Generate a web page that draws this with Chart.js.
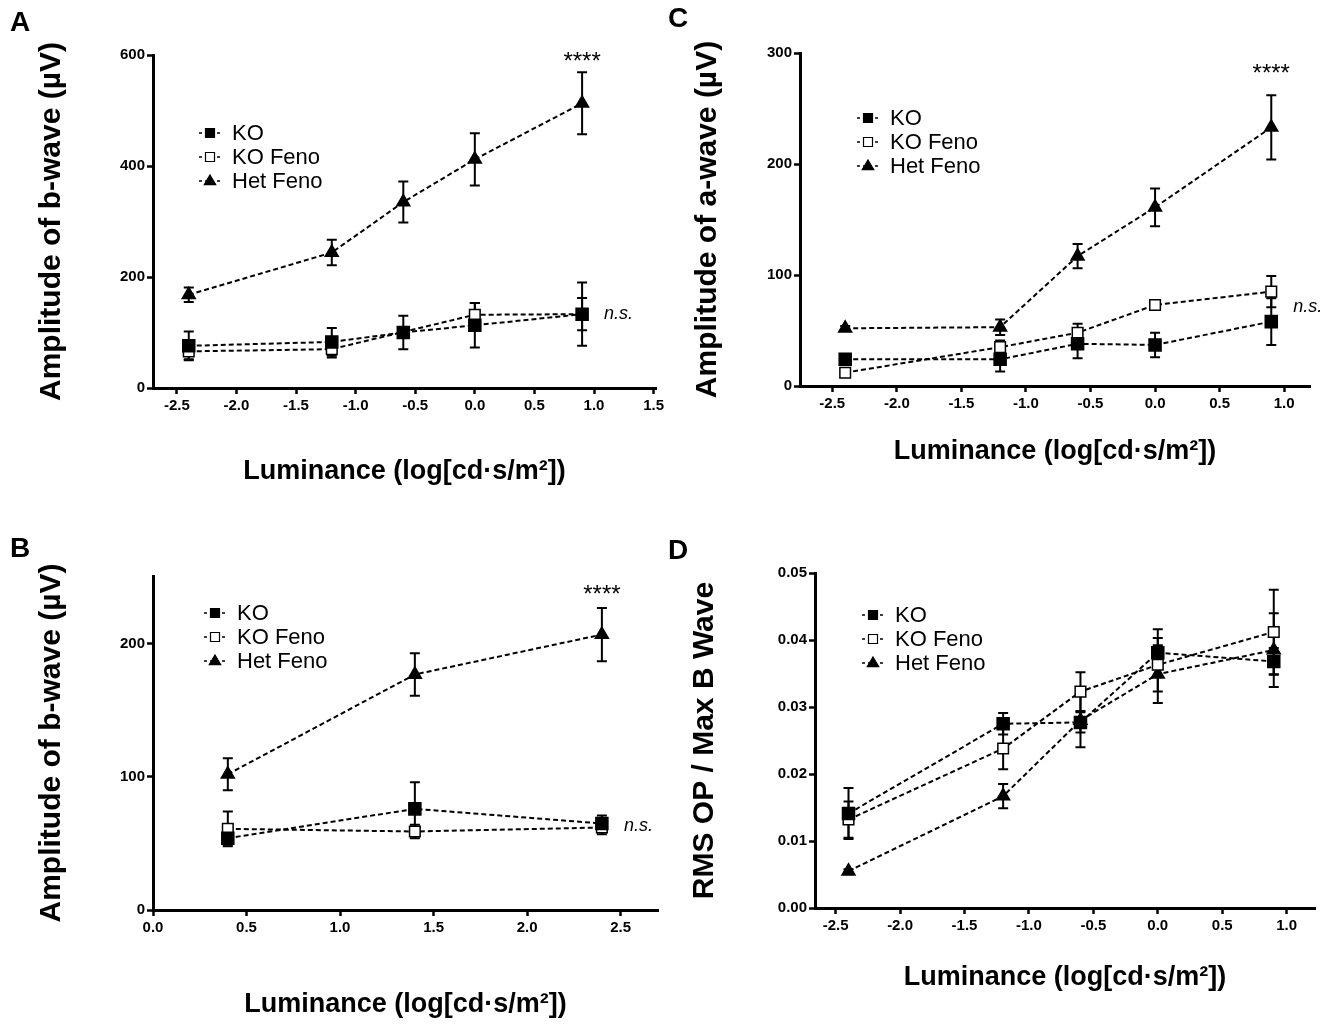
<!DOCTYPE html>
<html>
<head>
<meta charset="utf-8">
<script src="https://cdn.jsdelivr.net/npm/chart.js@4.4.1/dist/chart.umd.min.js"></script>
<style>
  body { margin: 0; background: #fff; }
  #wrap { position: relative; width: 1325px; height: 1027px; overflow: hidden; background: #fff; }
  canvas { position: absolute; }
  .tag { position: absolute; font: bold 28px "Liberation Sans", Arial, sans-serif; line-height: 1; color: #000; }
</style>
</head>
<body>
<div id="wrap">
  <canvas id="chartA" width="700" height="505" style="left:0px;top:0px"></canvas>
  <canvas id="chartC" width="665" height="490" style="left:660px;top:0px"></canvas>
  <canvas id="chartB" width="700" height="517" style="left:0px;top:510px"></canvas>
  <canvas id="chartD" width="665" height="517" style="left:660px;top:510px"></canvas>
  <div class="tag" style="left:10px;top:8px">A</div>
  <div class="tag" style="left:668px;top:4px">C</div>
  <div class="tag" style="left:10px;top:534px">B</div>
  <div class="tag" style="left:668px;top:536px">D</div>
</div>
<script>
const FONT = '"Liberation Sans", Arial, Helvetica, sans-serif';

// flash luminance steps, log[cd·s/m²]
const lumSteps = [-2.4, -1.2, -0.6, 0.0, 0.9];
const lumStepsB = [0.4, 1.4, 2.4];

// A - b-wave amplitude (µV), mean and SEM
const koA = [76, 83, 100, 113, 133];
const koErrA = [26, 25, 30, 40, 57];
const koFenoA = [66, 70, 101, 132, 133];
const koFenoErrA = [14, 15, 6, 21, 29];
const hetA = [168, 244, 335, 412, 513];
const hetErrA = [13, 23, 37, 47, 56];
const starsA = 595;

// C - a-wave amplitude (µV)
const koC = [24, 24, 38, 37, 58];
const koErrC = [3, 11, 13, 11, 21];
const koFenoC = [12, 35, 48, 73, 85];
const koFenoErrC = [3, 6, 8, 3, 14];
const hetC = [52, 53, 117, 161, 233];
const hetErrC = [2, 7, 11, 17, 29];
const starsC = 285;

// B - b-wave amplitude (µV)
const koB = [54, 76, 65];
const koErrB = [5, 20, 6];
const koFenoB = [61, 59, 62];
const koFenoErrB = [13, 5, 5];
const hetB = [102, 177, 207];
const hetErrB = [12, 16, 20];
const starsB = 240;

// D - RMS OP / max b-wave
const koD = [0.0141, 0.0275, 0.0277, 0.0381, 0.0368];
const koErrD = [0.0038, 0.0016, 0.0015, 0.0035, 0.0020];
const koFenoD = [0.0132, 0.0238, 0.0323, 0.0363, 0.0412];
const koFenoErrD = [0.0027, 0.0031, 0.0029, 0.0040, 0.0063];
const hetD = [0.0055, 0.0167, 0.0280, 0.0349, 0.0385];
const hetErrD = [0.0003, 0.0018, 0.0040, 0.0043, 0.0055];

const xTitle = 'Luminance (log[cd·s/m²])';

const errorBars = {
  id: 'errorBars',
  beforeDatasetsDraw(chart) {
    const { ctx, scales: { x, y } } = chart;
    ctx.save();
    ctx.strokeStyle = '#000';
    ctx.lineWidth = 2;
    chart.data.datasets.forEach((ds) => {
      ds.data.forEach((p, i) => {
        const e = ds.errors[i];
        const px = x.getPixelForValue(p.x);
        const top = y.getPixelForValue(p.y + e);
        const bot = y.getPixelForValue(p.y - e);
        ctx.beginPath();
        ctx.moveTo(px, top); ctx.lineTo(px, bot);
        ctx.moveTo(px - 5, top); ctx.lineTo(px + 5, top);
        ctx.moveTo(px - 5, bot); ctx.lineTo(px + 5, bot);
        ctx.stroke();
      });
    });
    ctx.restore();
  },
};

function marker(ctx, style, fill, cx, cy, r) {
  ctx.fillStyle = fill;
  ctx.strokeStyle = '#000';
  ctx.lineWidth = 1.2;
  ctx.beginPath();
  if (style === 'triangle') {
    ctx.moveTo(cx, cy - r);
    ctx.lineTo(cx + r * 0.95, cy + r * 0.6);
    ctx.lineTo(cx - r * 0.95, cy + r * 0.6);
    ctx.closePath();
  } else {
    ctx.rect(cx - r, cy - r, 2 * r, 2 * r);
  }
  ctx.fill();
  ctx.stroke();
}

const insetLegend = {
  id: 'insetLegend',
  afterDraw(chart, args, opts) {
    const { ctx, chartArea } = chart;
    const x0 = chartArea.left + opts.dx;
    const y0 = chartArea.top + opts.dy;
    ctx.save();
    chart.data.datasets.forEach((ds, i) => {
      const cy = y0 + i * 24;
      ctx.strokeStyle = '#000';
      ctx.lineWidth = 1.5;
      ctx.setLineDash([3, 3]);
      ctx.beginPath();
      ctx.moveTo(x0 - 11, cy);
      ctx.lineTo(x0 + 12, cy);
      ctx.stroke();
      ctx.setLineDash([]);
      marker(ctx, ds.pointStyle, ds.pointBackgroundColor, x0, cy, ds.pointStyle === 'triangle' ? 6 : 4.5);
      ctx.fillStyle = '#000';
      ctx.font = '22px ' + FONT;
      ctx.textBaseline = 'middle';
      ctx.fillText(ds.label, x0 + 22, cy + 1);
    });
    ctx.restore();
  },
};

const sigMarks = {
  id: 'sigMarks',
  afterDraw(chart, args, opts) {
    const { ctx, scales: { x, y } } = chart;
    const ds = chart.data.datasets;
    const last = ds[0].data.length - 1;
    const lx = x.getPixelForValue(ds[0].data[last].x);
    ctx.save();
    ctx.fillStyle = '#000';
    ctx.textBaseline = 'middle';
    if (opts.stars !== undefined) {
      ctx.textAlign = 'center';
      ctx.font = '24px ' + FONT;
      ctx.fillText('****', lx, y.getPixelForValue(opts.stars) + 5);
    }
    if (opts.ns) {
      const nsVal = (ds[0].data[last].y + ds[1].data[last].y) / 2;
      ctx.textAlign = 'left';
      ctx.font = 'italic 18px ' + FONT;
      ctx.fillText('n.s.', lx + 22, y.getPixelForValue(nsVal));
    }
    ctx.restore();
  },
};

function series(label, xs, ys, errs, style, fill, radius) {
  return {
    label: label,
    errors: errs,
    data: xs.map((x, i) => ({ x: x, y: ys[i] })),
    showLine: true,
    tension: 0,
    borderColor: '#000',
    borderWidth: 2,
    borderDash: [5, 3],
    pointStyle: style,
    pointRadius: radius,
    pointHoverRadius: radius,
    pointBackgroundColor: fill,
    pointBorderColor: '#000',
    pointBorderWidth: 1.5,
  };
}

function panel(id, p) {
  const tickFont = { family: FONT, size: 15, weight: 'bold' };
  return new Chart(document.getElementById(id), {
    type: 'scatter',
    data: {
      datasets: [
        series('KO', p.xs, p.ko, p.koErr, 'rect', '#000', 8.5),
        series('KO Feno', p.xs, p.koFeno, p.koFenoErr, 'rect', '#fff', 7.5),
        series('Het Feno', p.xs, p.het, p.hetErr, 'triangle', '#000', 7.5),
      ],
    },
    options: {
      responsive: false,
      animation: false,
      devicePixelRatio: 1,
      layout: { padding: { left: 0, top: p.padTop, right: p.padRight, bottom: 0 } },
      scales: {
        x: {
          type: 'linear',
          min: p.xMin,
          max: p.xMax,
          afterFit: (s) => { s.height = p.xH; },
          ticks: {
            stepSize: 0.5,
            includeBounds: false,
            autoSkip: false,
            maxRotation: 0,
            color: '#000',
            font: tickFont,
            padding: 3,
            callback: (v) => v.toFixed(1),
          },
          grid: { drawOnChartArea: false, drawTicks: true, tickLength: 6, tickWidth: 2.5, tickColor: '#000' },
          border: { color: '#000', width: 3 },
          title: {
            display: true,
            text: xTitle,
            color: '#000',
            font: { family: FONT, size: 27, weight: 'bold' },
            padding: { top: 0, bottom: p.xTitlePad },
          },
        },
        y: {
          type: 'linear',
          min: 0,
          max: p.yMax,
          afterFit: (s) => { s.width = p.yW; },
          ticks: {
            stepSize: p.yStep,
            includeBounds: false,
            color: '#000',
            font: tickFont,
            padding: 2,
            callback: (v) => (p.yDec ? v.toFixed(p.yDec) : v),
          },
          grid: { drawOnChartArea: false, drawTicks: true, tickLength: 6, tickWidth: 2.5, tickColor: '#000' },
          border: { color: '#000', width: 3 },
          title: {
            display: true,
            text: p.yTitle,
            color: '#000',
            font: { family: FONT, size: 30, weight: 'bold' },
            padding: { top: p.yTitlePad, bottom: 0 },
          },
        },
      },
      plugins: {
        legend: { display: false },
        tooltip: { enabled: false },
        insetLegend: { dx: p.legDx, dy: p.legDy },
        sigMarks: { stars: p.stars, ns: p.ns },
      },
    },
    plugins: [errorBars, insetLegend, sigMarks],
  });
}

panel('chartA', {
  xs: lumSteps, ko: koA, koErr: koErrA, koFeno: koFenoA, koFenoErr: koFenoErrA, het: hetA, hetErr: hetErrA,
  stars: starsA, ns: true, xMin: -2.7, xMax: 1.52, yMax: 600, yStep: 200, yDec: 0,
  yTitle: 'Amplitude of b-wave (µV)',
  padTop: 55, padRight: 44, yW: 153, xH: 117, yTitlePad: 34, xTitlePad: 17, legDx: 57, legDy: 78,
});

panel('chartC', {
  xs: lumSteps, ko: koC, koErr: koErrC, koFeno: koFenoC, koFenoErr: koFenoErrC, het: hetC, hetErr: hetErrC,
  stars: starsC, ns: true, xMin: -2.75, xMax: 1.2, yMax: 300, yStep: 100, yDec: 0,
  yTitle: 'Amplitude of a-wave (µV)',
  padTop: 53, padRight: 15, yW: 140, xH: 104, yTitlePad: 30, xTitlePad: 22, legDx: 68, legDy: 65,
});

panel('chartB', {
  xs: lumStepsB, ko: koB, koErr: koErrB, koFeno: koFenoB, koFenoErr: koFenoErrB, het: hetB, hetErr: hetErrB,
  stars: starsB, ns: true, xMin: 0, xMax: 2.7, yMax: 251, yStep: 100, yDec: 0,
  yTitle: 'Amplitude of b-wave (µV)',
  padTop: 66, padRight: 42, yW: 153, xH: 117, yTitlePad: 34, xTitlePad: 6, legDx: 62, legDy: 37,
});

panel('chartD', {
  xs: lumSteps, ko: koD, koErr: koErrD, koFeno: koFenoD, koFenoErr: koFenoErrD, het: hetD, hetErr: hetErrD,
  stars: undefined, ns: false, xMin: -2.66, xMax: 1.22, yMax: 0.05, yStep: 0.01, yDec: 2,
  yTitle: 'RMS OP / Max B Wave',
  padTop: 63, padRight: 7, yW: 155, xH: 119, yTitlePad: 27, xTitlePad: 33, legDx: 58, legDy: 42,
});
</script>
</body>
</html>
